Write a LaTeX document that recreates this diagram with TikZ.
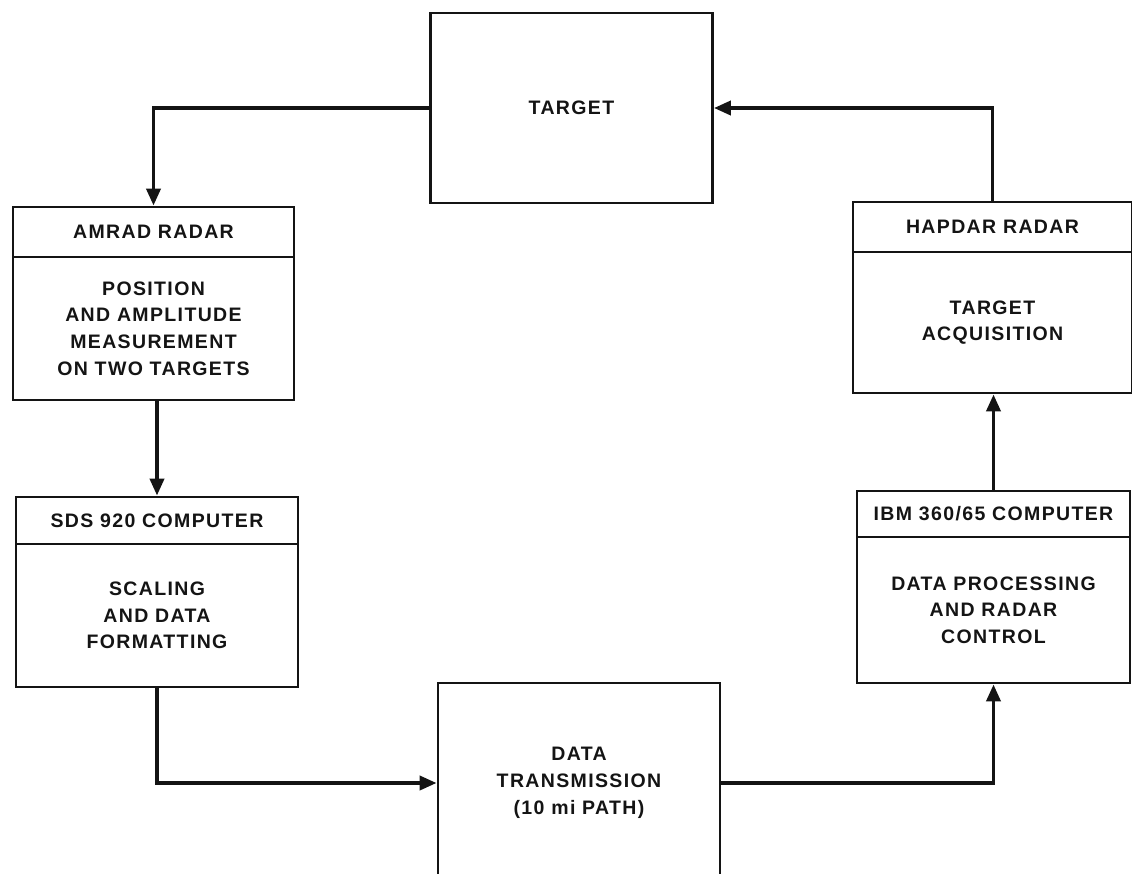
\documentclass[tikz,border=0pt]{standalone}
\usepackage{fontspec}
\setmainfont{Liberation Sans}[LetterSpace=7]
\usetikzlibrary{arrows.meta}
\newcommand{\blockfont}{\fontsize{19.5}{26.7}\selectfont\bfseries}
\definecolor{ink}{RGB}{20,20,20}
\begin{document}
\begin{tikzpicture}[x=1pt,y=-1pt,
  box/.style={draw=ink, line width=2.8pt, rectangle, inner sep=0pt,
    align=center, text=ink, font=\blockfont},
  flow/.style={draw=ink, line width=3.8pt,
    -{Triangle[length=17pt,width=14pt]}}]
\useasboundingbox (0,0) rectangle (1132,873);
\clip (0,0) rectangle (1132,873);

% target block
\node[box, minimum width=282pt, minimum height=190pt] (target) at (571.5,108) {TARGET};

% AMRAD radar block: header and body
\node[box, minimum width=281pt, minimum height=50pt] (amradh) at (153.5,232) {AMRAD RADAR};
\node[box, minimum width=281pt, minimum height=143pt] (amrad) at (153.5,328.5)
  {POSITION\\AND AMPLITUDE\\MEASUREMENT\\ON TWO TARGETS};

% SDS 920 computer block
\node[box, minimum width=282pt, minimum height=47pt] (sdsh) at (157,520.5) {SDS 920 COMPUTER};
\node[box, minimum width=282pt, minimum height=143pt] (sds) at (157,615.5)
  {SCALING\\AND DATA\\FORMATTING};

% data transmission block (runs past the lower edge)
\node[box, minimum width=282pt, minimum height=200pt] (data) at (579,783)
  {DATA\\TRANSMISSION\\(10 mi PATH)};

% IBM 360/65 computer block
\node[box, minimum width=273pt, minimum height=46pt] (ibmh) at (993.5,514) {IBM 360/65 COMPUTER};
\node[box, minimum width=273pt, minimum height=146pt] (ibm) at (993.5,610)
  {DATA PROCESSING\\AND RADAR\\CONTROL};

% HAPDAR radar block
\node[box, minimum width=279pt, minimum height=50pt] (hapdarh) at (992.5,227) {HAPDAR RADAR};
\node[box, minimum width=279pt, minimum height=141pt] (hapdar) at (992.5,322.5)
  {TARGET\\ACQUISITION};

% signal flow
\draw[flow] (target.west) -| (amradh.north);
\draw[flow] (amrad.south -| sdsh.north) -- (sdsh.north);
\draw[flow] (sds.south) |- (data.west);
\draw[flow] (data.east) -| (ibm.south);
\draw[flow] (ibmh.north) -- (hapdar.south -| ibmh.north);
\draw[flow] (hapdarh.north) |- (target.east);
\end{tikzpicture}
\end{document}
